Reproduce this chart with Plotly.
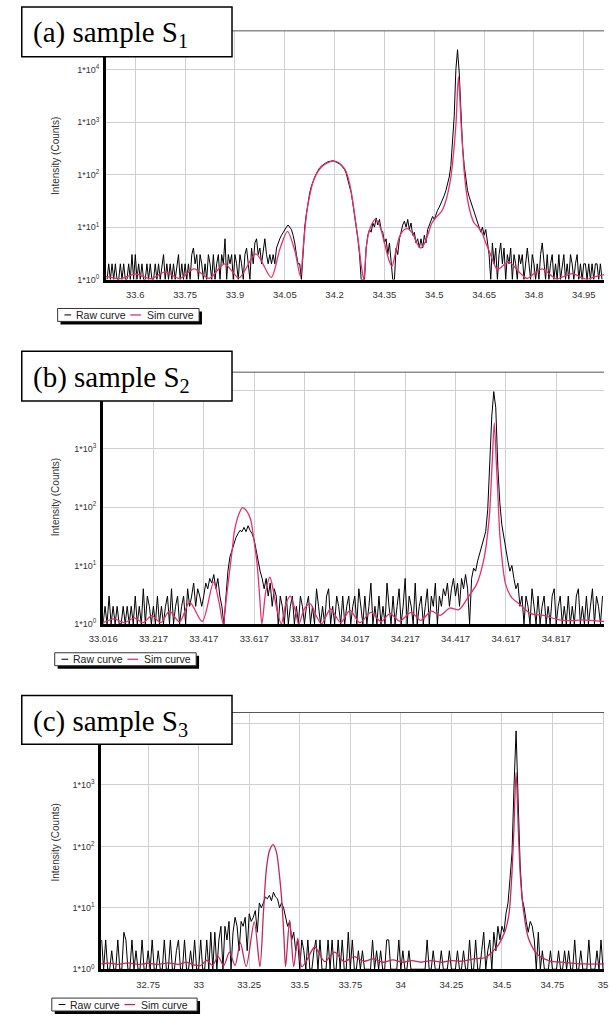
import plotly.graph_objects as go

W, H = 609, 1019

# ---------------- Panel (a) sample S1 ----------------
a_raw_start = 33.515
a_raw_step = 0.005
a_raw_counts = [
    1, 2, 1, 2, 1, 2, 1, 1, 2, 1,
    2, 1, 1, 2, 1, 3, 1, 3, 1, 2,
    1, 2, 1, 1, 2, 1, 2, 1, 1, 2,
    1, 2, 1, 2, 3, 1, 2, 1, 2, 1,
    2, 1, 2, 3, 1, 2, 1, 2, 1, 2,
    1, 3, 4, 2, 3, 1, 3, 2, 1, 2,
    1, 3, 2, 1, 3, 1, 2, 3, 1, 3,
    2, 6, 1, 3, 2, 3, 1, 3, 2, 1,
    3, 2, 1, 3, 4, 2, 1, 4, 2, 5,
    6, 3, 4, 2, 4, 6, 3, 2, 3, 2,
    3, 2, 4, 5, 6, 7, 8, 9, 10, 11,
    10, 9, 7, 5, 3, 2, 2, 1, 3, 10,
    18, 30, 45, 60, 75, 90, 105, 120, 135, 145,
    155, 163, 170, 176, 180, 185, 184, 180, 175, 168,
    160, 150, 140, 125, 105, 80, 60, 45, 28, 17,
    10, 6, 3, 1, 1, 1, 4, 7, 9, 8,
    12, 10, 15, 11, 14, 9, 8, 5, 6, 3,
    5, 2, 1, 1, 4, 3, 6, 8, 11, 13,
    10, 14, 9, 12, 7, 8, 5, 6, 4, 6,
    4, 7, 5, 9, 11, 13, 16, 14, 18, 21,
    24, 28, 33, 40, 50, 65, 90, 150, 380, 1300,
    10000, 24000, 9000, 1300, 350, 150, 80, 50, 38, 30,
    24, 20, 15, 12, 10, 8, 10, 7, 9, 5,
    3, 1, 5, 2, 4, 1, 3, 5, 2, 4,
    1, 3, 2, 4, 1, 3, 2, 1, 3, 2,
    3, 1, 2, 4, 2, 1, 3, 2, 1, 2,
    1, 3, 5, 2, 1, 3, 1, 2, 3, 1,
    2, 1, 3, 1, 2, 3, 1, 2, 1, 3,
    2, 1, 2, 3, 1, 2, 1, 2, 2, 1,
    2, 1, 2, 1, 2, 2, 1, 2, 1,
]
a_sim_x = [33.512, 33.556, 33.6, 33.646, 33.69, 33.734, 33.777, 33.822, 33.869, 33.912,
           33.963, 34.009, 34.035, 34.058, 34.08, 34.097, 34.106, 34.116, 34.125, 34.135,
           34.15, 34.164, 34.18, 34.2, 34.215, 34.231, 34.24, 34.25, 34.258, 34.265,
           34.273, 34.28, 34.288, 34.295, 34.302, 34.312, 34.322, 34.335, 34.35, 34.364,
           34.373, 34.382, 34.395, 34.41, 34.421, 34.435, 34.447, 34.459, 34.47, 34.48,
           34.493, 34.508, 34.522, 34.532, 34.541, 34.55, 34.556, 34.562, 34.566, 34.57,
           34.573, 34.576, 34.58, 34.585, 34.59, 34.597, 34.604, 34.612, 34.62, 34.632,
           34.643, 34.655, 34.667, 34.68, 34.69, 34.705, 34.723, 34.74, 34.76, 34.78,
           34.8, 34.825, 34.845, 34.868, 34.89, 34.916, 34.94, 34.96, 34.98, 35.011]
a_sim_y = [1.15, 1.04, 1.28, 1.04, 1.4, 1.05, 1.6, 1.06, 2.0, 1.08,
           3.1, 1.1, 3.8, 8.3, 3.6, 1.15, 4.5, 19, 40, 72,
           115, 146, 170, 180, 165, 127, 90, 47, 22, 10.5,
           4.5, 1.9, 1.0, 4, 7.5, 11.5, 14, 11, 5, 2.3,
           1.8, 3, 6.5, 9, 9.3, 7.5, 5, 4.0, 4.8, 7,
           12, 16, 20, 28, 45, 90, 190, 500, 1100, 4000,
           7400, 4000, 1100, 350, 115, 45, 25, 16, 12, 10,
           8, 5, 3.3, 2, 1.55, 1.8, 2.2, 1.8, 1.3, 1.05,
           1.3, 1.6, 1.3, 1.02, 1.15, 1.3, 1.12, 1.0, 1.12, 1.25]
a_xtick_vals = [33.6, 33.75, 33.9, 34.05, 34.2, 34.35, 34.5, 34.65, 34.8, 34.95]
a_xtick_text = ["33.6", "33.75", "33.9", "34.05", "34.2", "34.35", "34.5", "34.65", "34.8", "34.95"]

# ---------------- Panel (b) sample S2 ----------------
b_raw_start = 33.016
b_raw_step = 0.008
b_raw_counts = [
    1, 2, 1, 3, 1, 2, 1, 2, 1, 1,
    2, 1, 2, 1, 2, 1, 3, 1, 2, 1,
    4, 1, 3, 2, 1, 2, 1, 3, 1, 2,
    1, 2, 3, 1, 4, 1, 2, 3, 1, 2,
    3, 1, 4, 2, 3, 5, 2, 4, 3, 2,
    3, 5, 4, 6, 5, 7, 4, 6, 3, 2,
    1, 3, 8, 14, 18, 24, 30, 35, 40, 38,
    45, 38, 48, 40, 35, 28, 18, 12, 8, 6,
    4, 6, 3, 5, 2, 4, 3, 1, 3, 2,
    1, 3, 1, 2, 3, 1, 2, 1, 3, 2,
    1, 2, 3, 1, 2, 1, 4, 2, 1, 2,
    1, 3, 4, 1, 2, 1, 3, 2, 1, 3,
    1, 2, 3, 1, 2, 3, 1, 4, 2, 1,
    3, 1, 2, 5, 1, 2, 1, 3, 1, 2,
    1, 5, 2, 1, 3, 1, 2, 4, 1, 2,
    6, 1, 3, 2, 1, 5, 1, 2, 3, 1,
    2, 4, 1, 3, 2, 5, 1, 3, 2, 4,
    3, 5, 2, 4, 6, 3, 5, 2, 6, 4,
    7, 4, 1, 6, 9, 8, 12, 16, 22, 30,
    38, 90, 600, 3500, 9500, 5000, 500, 120, 50, 30,
    18, 12, 8, 10, 6, 4, 5, 2, 3, 1,
    3, 2, 1, 4, 2, 1, 3, 1, 2, 3,
    1, 2, 1, 3, 4, 1, 2, 3, 1, 2,
    1, 3, 1, 2, 1, 3, 4, 1, 2, 1,
    3, 1, 2, 4, 1, 3, 2, 1, 3,
]
b_sim_x = [33.0165, 33.06, 33.1, 33.14, 33.175, 33.21, 33.245, 33.28, 33.32, 33.36,
           33.41, 33.455, 33.478, 33.493, 33.506, 33.519, 33.53, 33.538, 33.555, 33.57,
           33.585, 33.602, 33.615, 33.628, 33.638, 33.647, 33.662, 33.679, 33.693, 33.705,
           33.724, 33.742, 33.76, 33.778, 33.794, 33.815, 33.839, 33.862, 33.884, 33.92,
           33.96, 33.997, 34.036, 34.08, 34.12, 34.156, 34.194, 34.24, 34.278, 34.32,
           34.355, 34.393, 34.43, 34.469, 34.5, 34.53, 34.55, 34.556, 34.562, 34.57,
           34.578, 34.584, 34.593, 34.615, 34.64, 34.67, 34.715, 34.766, 34.817, 34.87,
           34.92, 35.006]
b_sim_y = [1.05, 1.22, 1.05, 1.27, 1.05, 1.39, 1.05, 1.65, 1.08, 2.35,
           1.1, 5.2, 2.2, 1.0, 2.8, 8.2, 20, 39, 75, 98,
           88, 62, 28, 10.6, 3, 1.0, 3.5, 6.3, 3.6, 1.9,
           1.0, 2.2, 3.0, 1.8, 1.0, 1.8, 2.2, 1.4, 1.0, 1.8,
           1.05, 1.7, 1.05, 1.58, 1.1, 1.5, 1.12, 1.58, 1.15, 1.65,
           1.4, 1.87, 1.75, 3.0, 4.8, 13.7, 66, 180, 600, 2750,
           600, 180, 30, 4.8, 2.8, 2.2, 1.5, 1.4, 1.2, 1.14,
           1.17, 1.1]
b_xtick_vals = [33.0165, 33.2165, 33.4165, 33.6165, 33.8165, 34.0165, 34.2165, 34.4165, 34.6165, 34.8165]
b_xtick_text = ["33.016", "33.217", "33.417", "33.617", "33.817", "34.017", "34.217", "34.417", "34.617", "34.817"]

# ---------------- Panel (c) sample S3 ----------------
c_raw_start = 32.52
c_raw_step = 0.01
c_raw_counts = [
    3, 1, 3, 1, 1, 2, 1, 1, 3, 1,
    1, 4, 3, 1, 1, 3, 1, 2, 1, 1,
    3, 1, 1, 2, 1, 3, 1, 1, 2, 1,
    1, 3, 1, 1, 3, 1, 1, 2, 3, 1,
    1, 3, 1, 1, 2, 1, 3, 1, 1, 3,
    1, 1, 3, 1, 4, 1, 4, 1, 3, 5,
    1, 5, 3, 6, 1, 4, 7, 5, 2, 6,
    5, 7, 2, 8, 6, 7, 9, 4, 12, 10,
    12, 15, 14, 16, 13, 18, 15, 14, 10, 12,
    10, 7, 5, 6, 3, 4, 2, 3, 1, 3,
    2, 1, 3, 1, 1, 2, 3, 1, 3, 1,
    1, 1, 3, 1, 3, 1, 1, 3, 1, 3,
    1, 1, 4, 1, 3, 1, 1, 2, 1, 2,
    1, 1, 1, 1, 3, 1, 2, 1, 2, 1,
    1, 3, 3, 1, 1, 1, 1, 3, 1, 2,
    1, 1, 2, 1, 1, 1, 1, 1, 1, 1,
    1, 3, 1, 1, 2, 1, 1, 1, 2, 1,
    1, 1, 2, 1, 1, 1, 2, 1, 1, 2,
    1, 1, 3, 1, 1, 3, 1, 1, 2, 4,
    1, 2, 3, 1, 4, 2, 5, 3, 5, 4,
    8, 12, 30, 80, 1000, 7600, 600, 50, 14, 10,
    6, 4, 6, 5, 3, 1, 4, 1, 2, 1,
    1, 1, 2, 1, 1, 1, 2, 1, 1, 2,
    1, 2, 1, 1, 3, 1, 1, 2, 1, 1,
    1, 3, 1, 1, 1, 2, 1, 3, 1,
]
c_sim_x = [32.518, 32.56, 32.6, 32.65, 32.7, 32.75, 32.8, 32.85, 32.9, 32.94,
           32.975, 33.01, 33.04, 33.068, 33.096, 33.124, 33.152, 33.18, 33.206, 33.235,
           33.275, 33.303, 33.32, 33.335, 33.35, 33.368, 33.385, 33.398, 33.412, 33.422,
           33.43, 33.45, 33.47, 33.49, 33.51, 33.535, 33.574, 33.624, 33.672, 33.72,
           33.768, 33.816, 33.864, 33.912, 33.96, 34.008, 34.056, 34.1, 34.15, 34.2,
           34.25, 34.3, 34.35, 34.387, 34.42, 34.451, 34.483, 34.515, 34.535, 34.548,
           34.558, 34.57, 34.582, 34.592, 34.605, 34.631, 34.679, 34.738, 34.8, 34.9,
           35.005]
c_sim_y = [1.22, 1.26, 1.2, 1.27, 1.2, 1.25, 1.2, 1.27, 1.2, 1.3,
           1.18, 1.15, 1.4, 1.15, 1.6, 1.15, 1.9, 1.15, 2.7, 1.1,
           5.9, 1.1, 8, 43, 85, 107, 80, 38, 12, 3.2,
           1.1, 6.3, 1.1, 3.2, 1.1, 1.4, 2.3, 1.33, 1.9, 1.33,
           1.6, 1.35, 1.47, 1.3, 1.42, 1.3, 1.38, 1.3, 1.38, 1.3,
           1.38, 1.35, 1.45, 1.5, 1.55, 1.9, 2.5, 4.1, 8, 30,
           150, 1600, 150, 30, 10, 3.2, 1.7, 1.36, 1.3, 1.22,
           1.22]
c_xtick_vals = [32.75, 33.0, 33.25, 33.5, 33.75, 34.0, 34.25, 34.5, 34.75, 35.0]
c_xtick_text = ["32.75", "33", "33.25", "33.5", "33.75", "34", "34.25", "34.5", "34.75", "35"]

# shared y ticks
y_tick_vals = [1, 10, 100, 1000, 10000]
y_tick_text = ["1*10<sup>0</sup>", "1*10<sup>1</sup>", "1*10<sup>2</sup>", "1*10<sup>3</sup>", "1*10<sup>4</sup>"]

panel_titles = ["(a) sample S<sub>1</sub>", "(b) sample S<sub>2</sub>", "(c) sample S<sub>3</sub>"]
legend_names = ["Raw curve", "Sim curve"]


def px(x):
    return x / W


def py(y):
    return 1 - y / H


panels = [
    dict(raw=(a_raw_start, a_raw_step, a_raw_counts), sx=a_sim_x, sy=a_sim_y,
         tv=a_xtick_vals, tt=a_xtick_text, xr=[33.512, 35.011], ytop=4.74, nylab=5,
         left=94, top=31, bottom=281, sim_color="#e8306c",
         box=(7, 7, 224, 57), text_y=34, ytitle_y=157, leg=(44, 310, 190, 323)),
    dict(raw=(b_raw_start, b_raw_step, b_raw_counts), sx=b_sim_x, sy=b_sim_y,
         tv=b_xtick_vals, tt=b_xtick_text, xr=[33.0165, 35.006], ytop=4.31, nylab=4,
         left=91, top=374, bottom=627, sim_color="#e8306c",
         box=(7, 353, 224, 403), text_y=381, ytitle_y=500, leg=(41, 656, 187, 669)),
    dict(raw=(c_raw_start, c_raw_step, c_raw_counts), sx=c_sim_x, sy=c_sim_y,
         tv=c_xtick_vals, tt=c_xtick_text, xr=[32.518, 35.005], ytop=4.18, nylab=4,
         left=89, top=716, bottom=974, sim_color="#c4275e",
         box=(7, 699, 224, 748), text_y=727, ytitle_y=847, leg=(38, 1003, 188, 1016)),
]

fig = go.Figure()
shapes = []
annotations = []
tick_font = dict(family="Liberation Sans, Arial, sans-serif", size=9.5, color="#333333")

for k, p in enumerate(panels):
    sfx = "" if k == 0 else str(k + 1)
    xname, yname = "x" + sfx, "y" + sfx
    start, step, counts = p["raw"]
    raw_x = [start + i * step for i in range(len(counts))]
    fig.add_trace(go.Scatter(x=raw_x, y=counts, mode="lines", name=legend_names[0],
                             line=dict(color="black", width=1), xaxis=xname, yaxis=yname,
                             showlegend=False))
    fig.add_trace(go.Scatter(x=p["sx"], y=p["sy"], mode="lines", name=legend_names[1],
                             line=dict(color=p["sim_color"], width=1.3, shape="spline", smoothing=0.8),
                             xaxis=xname, yaxis=yname, showlegend=False))
    # labels hidden under the panel-label box are left blank (gridline kept)
    ytext = [t if i < p["nylab"] else "" for i, t in enumerate(y_tick_text)]
    xa = dict(domain=[px(p["left"]), px(608)], range=p["xr"], anchor=yname,
              tickmode="array", tickvals=p["tv"], ticktext=p["tt"],
              showgrid=True, gridcolor="#cfcfcf", gridwidth=1, zeroline=False,
              showline=True, linecolor="black", linewidth=3, ticks="",
              tickfont=tick_font, ticklabelstandoff=4, ticklabeloverflow="allow")
    ya = dict(domain=[py(p["bottom"]), py(p["top"])], type="log", range=[0, p["ytop"]],
              anchor=xname, tickmode="array", tickvals=y_tick_vals, ticktext=ytext,
              showgrid=True, gridcolor="#cfcfcf", gridwidth=1, zeroline=False,
              showline=True, linecolor="black", linewidth=3, ticks="",
              tickfont=dict(family="Liberation Sans, Arial, sans-serif", size=9, color="#333333"),
              ticklabelstandoff=2)
    fig.layout["xaxis" + sfx] = xa
    fig.layout["yaxis" + sfx] = ya

    # top border of plot area
    shapes.append(dict(type="line", xref="paper", yref="paper", x0=px(p["left"]), x1=px(608),
                       y0=py(p["top"]), y1=py(p["top"]), line=dict(color="#555555", width=1),
                       layer="above"))
    # panel label box
    bx0, by0, bx1, by1 = p["box"]
    shapes.append(dict(type="rect", xref="paper", yref="paper", x0=px(bx0), x1=px(bx1),
                       y0=py(by1), y1=py(by0), fillcolor="white",
                       line=dict(color="black", width=1.5), layer="above"))
    annotations.append(dict(text=panel_titles[k], xref="paper", yref="paper",
                            x=px(16), y=py(p["text_y"]), xanchor="left", yanchor="middle",
                            showarrow=False,
                            font=dict(family="Liberation Serif, Times New Roman, serif",
                                      size=29, color="black")))
    # y axis title
    annotations.append(dict(text="Intensity (Counts)", xref="paper", yref="paper",
                            x=px(42), y=py(p["ytitle_y"]), xanchor="center", yanchor="middle",
                            textangle=-90, showarrow=False,
                            font=dict(family="Liberation Sans, Arial, sans-serif", size=10,
                                      color="#333333")))
    # legend box with shadow
    lx0, ly0, lx1, ly1 = p["leg"]
    shapes.append(dict(type="rect", xref="paper", yref="paper", x0=px(lx0 + 3), x1=px(lx1 + 3),
                       y0=py(ly1 + 3), y1=py(ly0 + 3), fillcolor="black",
                       line=dict(color="black", width=0), layer="above"))
    shapes.append(dict(type="rect", xref="paper", yref="paper", x0=px(lx0), x1=px(lx1),
                       y0=py(ly1), y1=py(ly0), fillcolor="white",
                       line=dict(color="#333333", width=1), layer="above"))
    ly = (ly0 + ly1) / 2
    shapes.append(dict(type="line", xref="paper", yref="paper", x0=px(lx0 + 7), x1=px(lx0 + 14),
                       y0=py(ly), y1=py(ly), line=dict(color="black", width=1), layer="above"))
    shapes.append(dict(type="line", xref="paper", yref="paper", x0=px(lx0 + 75), x1=px(lx0 + 86),
                       y0=py(ly), y1=py(ly), line=dict(color=p["sim_color"], width=1.3),
                       layer="above"))
    annotations.append(dict(text=legend_names[0], xref="paper", yref="paper",
                            x=px(lx0 + 17), y=py(ly), xanchor="left", yanchor="middle",
                            showarrow=False,
                            font=dict(family="Liberation Sans, Arial, sans-serif", size=10.5,
                                      color="#222222")))
    annotations.append(dict(text=legend_names[1], xref="paper", yref="paper",
                            x=px(lx0 + 90), y=py(ly), xanchor="left", yanchor="middle",
                            showarrow=False,
                            font=dict(family="Liberation Sans, Arial, sans-serif", size=10.5,
                                      color="#222222")))

fig.update_layout(width=W, height=H, margin=dict(l=0, r=0, t=0, b=0),
                  paper_bgcolor="white", plot_bgcolor="white", showlegend=False,
                  shapes=shapes, annotations=annotations)

fig.write_html("out.html",
               post_script="document.body.style.margin='0';document.body.style.overflow='hidden';")
